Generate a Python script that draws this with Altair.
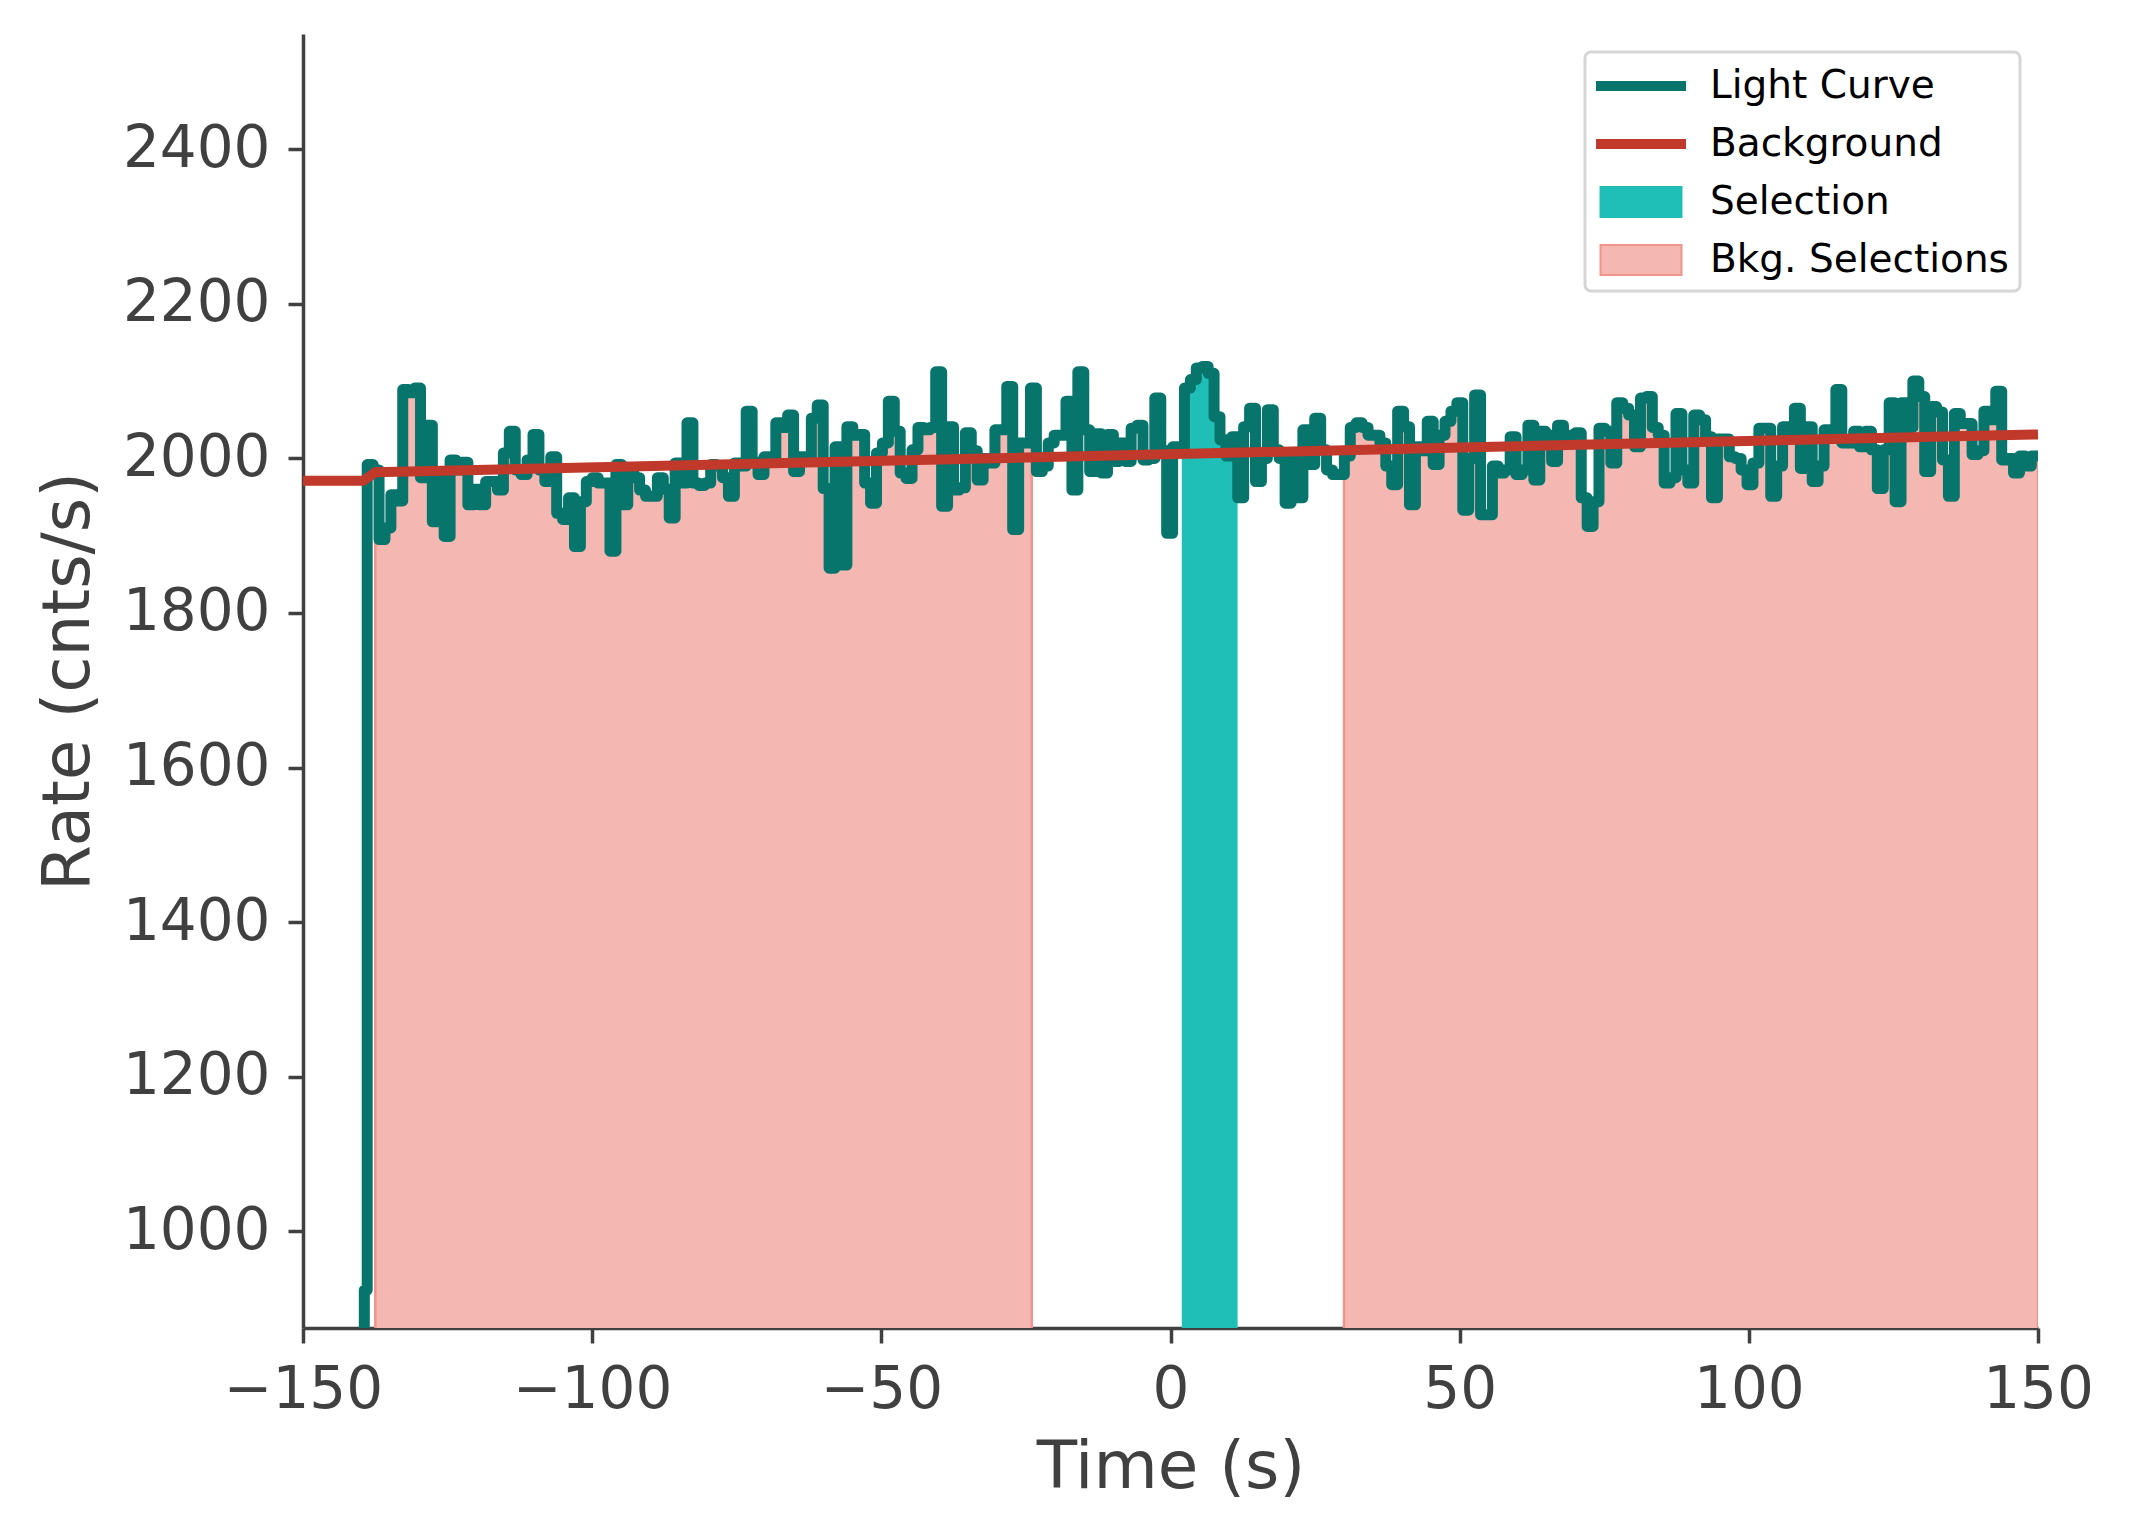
import altair as alt
import pandas as pd

# ---------------- data ----------------
# light curve: regular bins of lc_dt seconds starting at lc_t0
lc_t0 = -138.9
lc_dt = 1.024
lc_rate = [
    1992, 1985, 1895, 1910, 1953, 1945, 2089, 2085, 2091, 1975,
    2043, 1918, 1975, 1899, 1998, 1985, 1995, 1940, 1960, 1940,
    1970, 1970, 1959, 2007, 2035, 1985, 1979, 1998, 2031, 1985,
    1970, 2002, 1929, 1921, 1949, 1886, 1944, 1970, 1975, 1968,
    1968, 1880, 1992, 1940, 1988, 1975, 1959,
    1951, 1951, 1975, 1960, 1923, 1994, 1968, 2046, 1968, 1965,
    1968, 1992, 1990, 1975, 1951, 1994, 1990, 2061, 1995, 1979,
    2002, 2000, 2046, 2040, 2056, 1983, 2002, 2000, 2052, 2069,
    1961, 1858, 2015, 1862, 2041, 2030, 2031, 1968, 1942, 2007,
    2020, 2074, 2035, 1981, 1974, 2011, 2040,
    2037, 2040, 2112, 1938, 2041, 1959, 1962, 2033, 2010, 1972,
    2000, 1994, 2037, 2037, 2093, 1908, 2020, 2020, 2091, 1983,
    1990, 2020, 2030, 2030, 2074, 1959, 2112, 2037, 1983, 2032,
    1981, 2031, 1996, 2020, 1996, 2039, 2043, 1998, 2000, 2078,
    2010, 1903, 2015, 2015, 2091, 2102, 2117,
    2119, 2110, 2054, 2024, 2003, 2028, 1949, 2041, 2065, 1970,
    2000, 2063, 2011, 2000, 1942, 1996, 1949, 2037, 1992, 2052,
    2011, 1985, 1979, 1979, 2003, 2040, 2046, 2040, 2030, 2030,
    2020, 1990, 1966, 2061, 2041, 1940, 2015, 2010, 2048, 1992,
    2030, 2048, 2061, 2072, 1933, 2000, 2082, 1927,
    1927, 1990, 1981, 1985, 2028, 1979, 1985, 2043, 1972, 2035,
    2030, 1996, 2043, 2020, 2030, 2033, 1949, 1912, 1944, 2039,
    2035, 1994, 2072, 2065, 2056, 2015, 2078, 2080, 2040, 2030,
    1968, 1975, 2058, 1985, 1968, 2056, 2050, 2028, 1949, 2025,
    2025, 2002, 2000, 1985, 1966, 1994, 2039,
    2039, 1951, 1990, 2041, 2028, 2065, 1987, 2041, 1970, 1990,
    2037, 2030, 2089, 2020, 2020, 2035, 2015, 2035, 2011, 1961,
    2011, 2072, 1944, 2072, 2040, 2100, 2080, 1983, 2067, 2060,
    1998, 1951, 2058, 2045, 2045, 2005, 2010, 2061, 2050, 2087,
    1998, 2000, 1981, 2003, 1990, 2003,
]
# the partial bins before the regular ones
lead_time = [-141.0, -139.4]
lead_rate = [0.0, 924.0]

# fitted background
bkg_time = [-150.0, -139.6, -137.5, 150.0]
bkg_rate = [1971.0, 1971.0, 1982.0, 2031.0]

# selections
src_interval = [1.95, 11.6]
bkg_intervals = [[-137.5, -24.0], [30.0, 150.0]]

x_ticks = [-150, -100, -50, 0, 50, 100, 150]
y_ticks = [1000, 1200, 1400, 1600, 1800, 2000, 2200, 2400]

legend_names = ["Light Curve", "Background", "Selection", "Bkg. Selections"]
legend_fill = ["#08756D", "#C0392B", "#1FBFB7", "#F5B7B1"]
legend_stroke = ["#08756D", "#C0392B", "#1FBFB7", "#F1948A"]
legend_shape = [
    "M-2,-0.18H2V0.18H-2Z",
    "M-2,-0.18H2V0.18H-2Z",
    "M-1.84,-0.68H1.84V0.68H-1.84Z",
    "M-1.84,-0.68H1.84V0.68H-1.84Z",
]

# ---------------- tables ----------------
n = len(lc_rate)
times = lead_time + [lc_t0 + k * lc_dt for k in range(n)] + [lc_t0 + n * lc_dt]
rates = lead_rate + lc_rate + [lc_rate[-1]]
lc_df = pd.DataFrame({"t": times, "rate": rates})


def value_at(a):
    idx = max(i for i, t in enumerate(times) if t <= a)
    return rates[idx]


def segment(a, b):
    rows = [(a, value_at(a))]
    rows += [(t, r) for t, r in zip(times, rates) if a < t < b]
    rows.append((b, value_at(b)))
    return pd.DataFrame(rows, columns=["t", "rate"])


bkg_sel_dfs = [segment(a, b) for a, b in bkg_intervals]
src_df = segment(src_interval[0], src_interval[1])
bkg_df = pd.DataFrame({"t": bkg_time, "rate": bkg_rate})
leg_df = pd.DataFrame({"t": [-1000.0] * 4, "rate": [0.0] * 4, "series": legend_names})

# ---------------- encodings ----------------
FONT = "DejaVu Sans"
AX = "#404040"

x_enc = alt.X(
    "t:Q",
    scale=alt.Scale(domain=[-150, 150], nice=False, zero=False),
    axis=alt.Axis(title="Time (s)", values=x_ticks, grid=False, labelFlush=False, format="d"),
)
y_enc = alt.Y(
    "rate:Q",
    scale=alt.Scale(domain=[875, 2549], nice=False, zero=False),
    axis=alt.Axis(title="Rate (cnts/s)", values=y_ticks, grid=False, format="d"),
)

bkg_areas = [
    alt.Chart(d).mark_area(
        interpolate="step-after", color="#F5B7B1", stroke="#F1948A", strokeWidth=2.5, clip=True
    ).encode(x=x_enc, y=y_enc)
    for d in bkg_sel_dfs
]

src_area = alt.Chart(src_df).mark_area(
    interpolate="step-after", color="#1FBFB7", clip=True
).encode(x=x_enc, y=y_enc)

lc_line = alt.Chart(lc_df).mark_line(
    interpolate="step-after", color="#08756D", strokeWidth=11,
    strokeJoin="round", strokeCap="round", clip=True
).encode(x=x_enc, y=y_enc)

bkg_line = alt.Chart(bkg_df).mark_line(
    color="#C0392B", strokeWidth=10, clip=True
).encode(x=x_enc, y=y_enc)

leg = alt.Legend(title=None)
leg_layer = alt.Chart(leg_df).mark_point(
    filled=True, opacity=1, size=1936, clip=True
).encode(
    x=x_enc,
    y=y_enc,
    fill=alt.Fill("series:N", scale=alt.Scale(domain=legend_names, range=legend_fill), legend=leg),
    stroke=alt.Stroke("series:N", scale=alt.Scale(domain=legend_names, range=legend_stroke), legend=leg),
    shape=alt.Shape("series:N", scale=alt.Scale(domain=legend_names, range=legend_shape), legend=leg),
)

chart = alt.layer(*bkg_areas, src_area, lc_line, bkg_line, leg_layer).properties(
    width=1735,
    height=1294,
    padding={"left": 295, "top": 26, "right": 60, "bottom": 190},
    autosize=alt.AutoSizeParams(type="none"),
).configure_view(
    stroke=None
).configure_axis(
    labelFont=FONT, titleFont=FONT, labelFontSize=58, titleFontSize=66,
    titleFontWeight="normal", labelColor=AX, titleColor=AX,
    domainColor=AX, tickColor=AX, domainWidth=3.5, tickWidth=3.5, tickSize=15,
    labelPadding=18,
).configure_axisX(
    titlePadding=16,
).configure_axisY(
    titlePadding=20,
).configure_legend(
    orient="top-right", offset=18, labelFont=FONT, labelFontSize=39, labelColor="#000000",
    labelLimit=500, fillColor="white", strokeColor="#D6D6D6", strokeWidth=3, cornerRadius=6,
    padding=11, rowPadding=15, symbolSize=1936, symbolStrokeWidth=2, symbolOffset=22,
    labelOffset=46,
)

chart.save("out.html", embed_options={"renderer": "svg", "actions": False})
